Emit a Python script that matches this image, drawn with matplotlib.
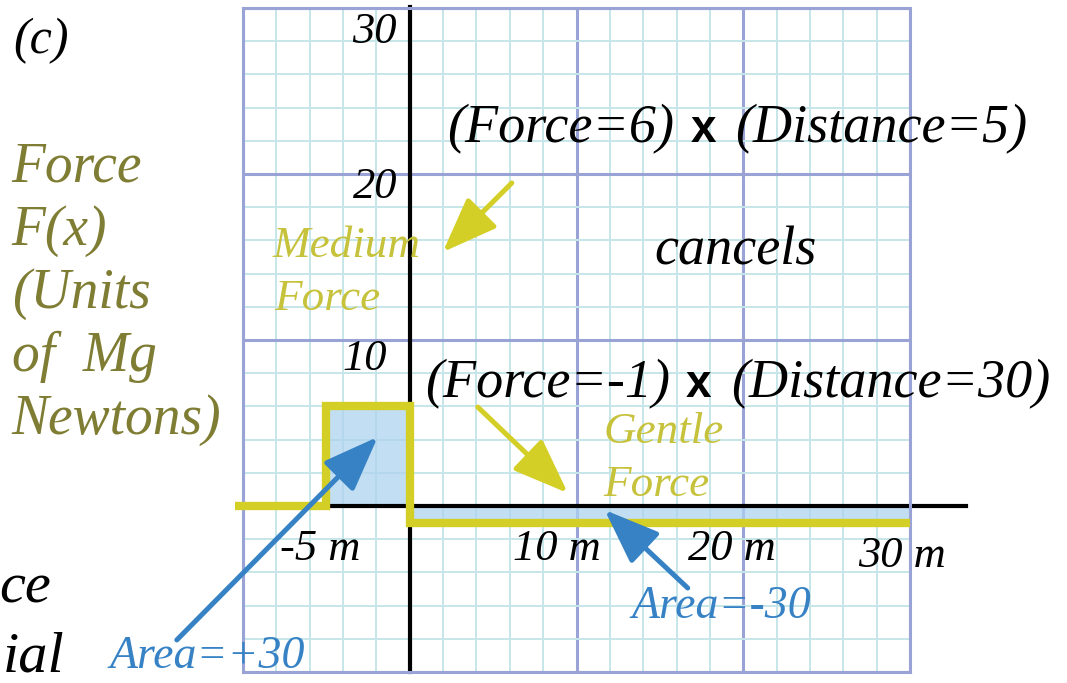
import matplotlib
matplotlib.use("Agg")
import matplotlib.pyplot as plt

# ---------------- data ----------------
seg_start = [-5, 0]          # start of each constant-force segment (m)
seg_end = [0, 30]            # end of each segment (m)
seg_force = [6, -1]          # force value (Mg Newtons)
lead_x = -10.5               # zero force before the first segment

y_tick_vals = [30, 20, 10]
y_tick_labels = ["30", "20", "10"]
x_tick_vals = [-5, 10, 20, 30]
x_tick_labels = ["-5 m", "10 m", "20 m", "30 m"]

ylabel_lines = ["Force", "F(x)", "(Units", "of  Mg", "Newtons)"]

# ---------------- style ----------------
SERIF = "Liberation Serif"
MAJOR = "#9aa3d6"
MINOR = "#c6e6ea"
OLIVE = "#7f7d33"
YEL_LINE = "#d3cf26"
YEL_TEXT = "#c6c23c"
BLUE = "#3682c5"
FILL = "#aed3f0"

fig = plt.figure(figsize=(10.67, 6.83), dpi=100)
ax = fig.add_axes([243 / 1067, 11 / 683, 667 / 1067, 664 / 683])
ax.set_xlim(-10, 30)
ax.set_ylim(-10, 30)

# grid
ax.set_xticks(range(-10, 31, 10))
ax.set_yticks(range(-10, 31, 10))
ax.set_xticks([v for v in range(-10, 31, 2) if v % 10], minor=True)
ax.set_yticks([v for v in range(-10, 31, 2) if v % 10], minor=True)
ax.tick_params(which="both", length=0, labelbottom=False, labelleft=False)
ax.grid(which="minor", color=MINOR, lw=1.4, zorder=0)
ax.grid(which="major", color=MAJOR, lw=2.2, zorder=0.5)
ax.set_axisbelow(True)
for s in ax.spines.values():
    s.set_color(MAJOR)
    s.set_linewidth(2.2)

# area under force curve
widths = [e - s for s, e in zip(seg_start, seg_end)]
ax.bar(seg_start, seg_force, width=widths, align="edge", color=FILL,
       alpha=0.75, linewidth=0, zorder=1)

# coordinate axes
ax.plot([-10, 33.35], [0, 0], color="black", lw=3.0, clip_on=False, zorder=2)
ax.plot([0, 0], [-10, 30.05], color="black", lw=3.0, clip_on=False, zorder=2)

# force step curve
step_x = [lead_x] + seg_start + [seg_end[-1]]
step_y = [0] + seg_force + [seg_force[-1]]
ax.plot(step_x, step_y, drawstyle="steps-post", color=YEL_LINE, lw=6,
        solid_joinstyle="miter", solid_capstyle="butt", clip_on=False,
        zorder=3)

# tick labels
tk = dict(family=SERIF, style="italic", fontsize=32, color="black")
y_lab_pos = [(-0.78, 27.9), (-0.72, 18.55), (-1.38, 8.19)]
for (px, py), lab in zip(y_lab_pos, y_tick_labels):
    ax.text(px, py, lab, ha="right", va="baseline", **tk)
x_lab_pos = [(-7.8, -3.25), (6.18, -3.25), (16.67, -3.25), (26.87, -3.67)]
for (px, py), lab in zip(x_lab_pos, x_tick_labels):
    ax.text(px, py, lab, ha="left", va="baseline", **tk)

# y-axis description (olive)
for i, line in enumerate(ylabel_lines):
    ax.text(-23.87, 19.52 - i * 3.8, line, family=SERIF, style="italic",
            fontsize=40, color=OLIVE, ha="left", va="baseline")

# panel tag and cut-off text
ax.text(-22.1, 28.0, "(c)", family=SERIF, style="italic", fontsize=36,
        color="black", ha="center", va="center")
ax.text(-24.6, -5.84, "ce", family=SERIF, style="italic", fontsize=42,
        color="black", ha="left", va="baseline")
ax.text(-24.42, -9.95, "ial", family=SERIF, style="italic", fontsize=42,
        color="black", ha="left", va="baseline")

# products
big = dict(family=SERIF, style="italic", fontsize=39, color="black",
           va="baseline", ha="left")
xs = dict(family="Liberation Sans", weight="bold", fontsize=33,
          color="black", va="baseline", ha="left")
ax.text(2.22, 21.93, "(Force=6)", **big)
ax.text(16.85, 21.93, "x", **xs)
ax.text(19.5, 21.93, "(Distance=5)", **big)
ax.text(14.69, 14.52, "cancels", **big)
ax.text(0.9, 6.57, "(Force=-1)", **big)
ax.text(16.55, 6.57, "x", **xs)
ax.text(19.3, 6.57, "(Distance=30)", **big)

# yellow labels
yl = dict(family=SERIF, style="italic", fontsize=32.5, color=YEL_TEXT,
          ha="left", va="baseline")
ax.text(-8.2, 15.0, "Medium", **yl)
ax.text(-8.1, 11.8, "Force", **yl)
ax.text(11.6, 3.8, "Gentle", **yl)
ax.text(11.6, 0.6, "Force", **yl)

# blue area labels
bl = dict(family=SERIF, style="italic", fontsize=33, color=BLUE,
          ha="left", va="baseline")
ax.text(-18.0, -9.76, "Area=+30", **bl)
ax.text(13.31, -6.75, "Area=-30", **bl)

# arrows
def arrow(tail, head, color):
    ax.annotate("", xy=head, xytext=tail, annotation_clip=False,
                arrowprops=dict(arrowstyle="-|>,head_length=1.7,head_width=0.65",
                                mutation_scale=20, color=color, lw=3.6,
                                shrinkA=0, shrinkB=0), zorder=5)

arrow((6.12, 19.46), (1.98, 15.3), YEL_LINE)
arrow((4.08, 5.96), (9.48, 0.78), YEL_LINE)
arrow((-13.97, -8.07), (-1.92, 4.16), BLUE)
arrow((16.67, -4.94), (11.69, -0.24), BLUE)

fig.savefig("out.png", dpi=100)
